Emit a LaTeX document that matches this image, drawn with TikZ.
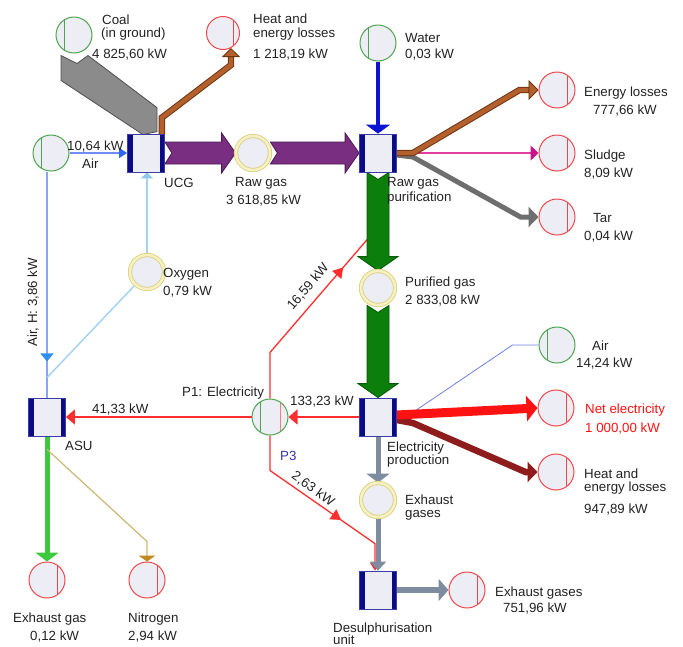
\documentclass[tikz,border=0pt]{standalone}
\usepackage{fontspec}
\setmainfont{Liberation Sans}
\usetikzlibrary{arrows.meta,calc,decorations.markings}
\pgfdeclarelayer{flows}
\pgfsetlayers{flows,main}

\definecolor{nodeFill}{HTML}{EDEDF6}
\definecolor{srcGreen}{HTML}{4DA54F}
\definecolor{snkRed}{HTML}{F2474A}
\definecolor{ringLine}{HTML}{D8CF7C}
\definecolor{ringBand}{HTML}{F6F0C2}
\definecolor{barNavy}{HTML}{0B0B86}
\definecolor{boxLine}{HTML}{3C3CA8}
\definecolor{coalGray}{HTML}{8B8B8B}
\definecolor{coalEdge}{HTML}{4F4F4F}
\definecolor{brownL}{HTML}{B4602C}
\definecolor{brownD}{HTML}{6E3512}
\definecolor{purpleL}{HTML}{7A2E82}
\definecolor{purpleD}{HTML}{4C1A52}
\definecolor{greenL}{HTML}{0B7E0B}
\definecolor{greenD}{HTML}{075A07}
\definecolor{airLine}{HTML}{6E8EF4}
\definecolor{airTip}{HTML}{2F66F2}
\definecolor{waterBlue}{HTML}{0A14D2}
\definecolor{sludgePink}{HTML}{E23C9E}
\definecolor{sludgeTip}{HTML}{C8148A}
\definecolor{tarGray}{HTML}{6E6E6E}
\definecolor{elecRed}{HTML}{FF2E2E}
\definecolor{netRed}{HTML}{FF1212}
\definecolor{lossRed}{HTML}{8E1C1C}
\definecolor{exGray}{HTML}{7E8CA0}
\definecolor{oxyBlue}{HTML}{A4D3F2}
\definecolor{oxyTip}{HTML}{8CC8F0}
\definecolor{hBlue}{HTML}{88A6F2}
\definecolor{hTip}{HTML}{2E8EF0}
\definecolor{asuGreen}{HTML}{3EC83E}
\definecolor{tanLine}{HTML}{CDB574}
\definecolor{tanTip}{HTML}{C08A1E}
\definecolor{airThin}{HTML}{6F7FE2}
\definecolor{p3Blue}{HTML}{3434AE}
\definecolor{textGray}{HTML}{222222}

\newcommand\lblfont{\fontsize{13.3}{15}\selectfont}

% broad flow arrow pointing right, with a notched tail
\newcommand\fatright[3]{%
  \filldraw[#1] let \p1=(#2), \p2=(#3) in
    (\x1,\y1+11pt) -- (\x2-14pt,\y1+11pt) -- (\x2-14pt,\y1+20pt) -- (\x2,\y1)
    -- (\x2-14pt,\y1-20pt) -- (\x2-14pt,\y1-11pt) -- (\x1,\y1-11pt) -- (\x1+7pt,\y1) -- cycle;}
% broad flow arrow pointing down, with a notched tail
\newcommand\fatdown[3]{%
  \filldraw[#1] let \p1=(#2), \p2=(#3) in
    (\x1-11pt,\y1) -- (\x1-11pt,\y2+14pt) -- (\x1-20pt,\y2+14pt) -- (\x1,\y2)
    -- (\x1+20pt,\y2+14pt) -- (\x1+11pt,\y2+14pt) -- (\x1+11pt,\y1) -- (\x1,\y1-7pt) -- cycle;}

\tikzset{
  src/.style={circle, minimum size=36pt, inner sep=0pt, fill=nodeFill, draw=srcGreen, line width=1pt,
    path picture={\draw[srcGreen, line width=1pt]
      ([xshift=-10pt]path picture bounding box.north) -- ([xshift=-10pt]path picture bounding box.south);}},
  snk/.style={circle, minimum size=36pt, inner sep=0pt, fill=nodeFill, draw=snkRed, line width=1pt,
    path picture={\draw[snkRed, line width=1pt]
      ([xshift=10pt]path picture bounding box.north) -- ([xshift=10pt]path picture bounding box.south);}},
  hub/.style={circle, minimum size=36pt, inner sep=0pt, fill=nodeFill, draw=srcGreen, line width=1pt,
    path picture={\draw[srcGreen, line width=1pt]
      ([xshift=-10pt]path picture bounding box.north) -- ([xshift=-10pt]path picture bounding box.south);
      \draw[snkRed!70, line width=0.8pt]
      ([xshift=10pt]path picture bounding box.north) -- ([xshift=10pt]path picture bounding box.south);}},
  mid/.style={circle, minimum size=34pt, inner sep=0pt, fill=nodeFill, draw=ringLine,
    double=ringBand, double distance=2.6pt, line width=0.8pt},
  proc/.style={rectangle, minimum width=37pt, minimum height=38pt, inner sep=0pt, fill=nodeFill,
    draw=boxLine, line width=0.8pt,
    path picture={\fill[barNavy] (path picture bounding box.north west) rectangle ([xshift=5pt]path picture bounding box.south west);
      \fill[barNavy] (path picture bounding box.north east) rectangle ([xshift=-5pt]path picture bounding box.south east);}},
  lbl/.style={font=\lblfont, text=textGray, inner sep=0pt, anchor=base west},
  purpleband/.style={fill=purpleL, draw=purpleD, line width=0.8pt},
  greenband/.style={fill=greenL, draw=greenD, line width=0.8pt},
  coalband/.style={fill=coalGray, draw=coalEdge, line width=0.8pt},
  brownflow/.style={draw=brownL, line width=4.4pt, preaction={draw=brownD, line width=6.4pt, -, shorten >=8pt}},
  airflow/.style={draw=airLine, line width=1.6pt},
  sludgeflow/.style={draw=sludgePink, line width=1.4pt},
  tarflow/.style={draw=tarGray, line width=5pt},
  elecline/.style={draw=elecRed, line width=1.3pt},
  netflow/.style={draw=netRed, line width=9pt},
  lossflow/.style={draw=lossRed, line width=6.5pt},
  exflow/.style={draw=exGray, line width=5pt},
  oxyline/.style={draw=oxyBlue, line width=1.5pt},
  hline/.style={draw=hBlue, line width=1.5pt},
  asuflow/.style={draw=asuGreen, line width=5pt},
  tanflow/.style={draw=tanLine, line width=1.2pt},
  thinair/.style={draw=airThin, line width=0.8pt},
}

\begin{document}
\begin{tikzpicture}[x=1pt, y=-1pt]
\useasboundingbox (0,0) rectangle (683,646);

% ---------- units, sources and sinks ----------
\node[src] (coal) at (74,35) {};
\node[snk, minimum size=33pt] (heatA) at (223,33) {};
\node[src] (water) at (378,43) {};
\node[src] (airL) at (51,153) {};
\node[proc] (ucg) at (146,153) {};
\node[mid] (rawgas) at (253,153) {};
\node[proc] (rgp) at (378,153) {};
\node[snk] (eloss) at (557,90) {};
\node[snk] (sludge) at (557,153) {};
\node[snk] (tar) at (557,217) {};
\node[mid] (purgas) at (378,288) {};
\node[mid] (oxy) at (147,272) {};
\node[src] (airR) at (557,345) {};
\node[proc] (elec) at (378,417) {};
\node[snk] (netel) at (556,408) {};
\node[snk] (heatB) at (556,472) {};
\node[mid] (exh) at (378,500) {};
\node[hub] (p1) at (270,417) {};
\node[proc] (asu) at (47,417) {};
\node[snk] (exgas) at (47,580) {};
\node[snk] (nitro) at (147,580) {};
\node[proc] (desul) at (378,590) {};
\node[snk] (exsink) at (467,590) {};

% ---------- flows ----------
\begin{pgfonlayer}{flows}
  % coal into the gasifier
  \filldraw[coalband] ($(coal.south)+(-13,2)$) -- ($(coal.south)+(3,10)$) -- ($(coal.south)+(14,2)$)
    -- ($(ucg.north)+(11,-26)$) -- ($(ucg.north)+(11,-2)$) -- ($(ucg.north)+(-3,1)$)
    -- ($(coal.south)+(-13,27)$) -- cycle;
  % gasifier losses
  \draw[brownflow, -{Triangle[width=18pt,length=9pt,line width=0.8pt,color=brownD,fill=brownL]}]
    ($(ucg.north east)+(-3,1)$) -- ++(0,-17) -- ($(heatA.-62)+(0,17)$) -- (heatA.-62);
  % air into the gasifier
  \draw[airflow, -{Triangle[width=10pt,length=8pt,color=airTip]}] (airL.east) -- (ucg.west);
  % raw gas
  \fatright{purpleband}{ucg.east}{rawgas.west}
  \fatright{purpleband}{rawgas.east}{rgp.west}
  % water
  \draw[draw=waterBlue, line width=3.5pt, -{Triangle[width=24pt,length=9pt]}] (water.south) -- (rgp.north);
  % purification outputs
  \draw[sludgeflow, -{Triangle[width=15pt,length=8pt,color=sludgeTip]}] (rgp.east) -- (sludge.west);
  \draw[tarflow, -{Triangle[width=20pt,length=10pt]}]
    ($(rgp.east)+(0,2)$) -- ++(16,2) -- ($(tar.west)+(-18,0)$) -- (tar.west);
  \draw[brownflow, -{Triangle[width=20pt,length=10pt,line width=0.8pt,color=brownD,fill=brownL]}]
    ($(rgp.east)+(0,0)$) -- ++(16,0) -- ($(eloss.west)+(-19,0)$) -- (eloss.west);
  % electricity to purification
  \draw[elecline, postaction={decorate, decoration={markings,
      mark=at position 0.8 with {\arrow{Triangle[width=12pt,length=10pt]}}}}]
    (p1.north) -- ++(0,-46) -- ($(rgp.south)+(-9,65)$);
  % purified gas
  \fatdown{greenband}{rgp.south}{purgas.north}
  \fatdown{greenband}{purgas.south}{elec.north}
  % electricity production outputs
  \draw[thinair] (airR.west) -- ++(-26,0) -- ($(elec.east)+(18,-6)$);
  \draw[lossflow, -{Triangle[width=20pt,length=10pt]}]
    ($(elec.east)+(0,3)$) -- ++(16,3) -- ($(heatB.west)+(-12,0)$) -- (heatB.west);
  \draw[netflow, -{Triangle[width=25pt,length=11pt]}] ($(elec.east)+(0,-2)$) -- (netel.west);
  \draw[elecline, -{Triangle[width=15pt,length=9pt]}] (elec.west) -- (p1.east);
  \draw[elecline, -{Triangle[width=15pt,length=9pt]}] (p1.west) -- (asu.east);
  % electricity to desulphurisation
  \draw[elecline, -{Triangle[width=10pt,length=8pt]},
    postaction={decorate, decoration={markings,
      mark=at position 0.64 with {\arrow{Triangle[width=12pt,length=10pt]}}}}]
    (p1.south) -- ++(0,35) -- ($(desul.north)+(-3,-27)$) -- ($(desul.north)+(-3,0)$);
  % exhaust chain
  \draw[exflow, -{Triangle[width=23pt,length=9pt]}] (elec.south) -- (exh.north);
  \draw[exflow, -{Triangle[width=16pt,length=9pt]}] (exh.south) -- (desul.north);
  \draw[exflow, line width=6pt, -{Triangle[width=22pt,length=10pt]}] (desul.east) -- (exsink.west);
  % air separation unit
  \draw[hline, postaction={decorate, decoration={markings,
      mark=at position 0.84 with {\arrow{Triangle[width=13pt,length=8pt,color=hTip]}}}}]
    (airL.south -| asu.north) -- (asu.north);
  \draw[oxyline, -{Triangle[width=12pt,length=6pt,color=oxyTip]}]
    ($(asu.north)+(0,-20)$) -- ($(oxy.south)+(0,-17)$) -- (oxy.south);
  \draw[oxyline, -{Triangle[width=12pt,length=6pt,color=oxyTip]}] (oxy.north) -- (oxy.north |- ucg.south);
  \draw[asuflow, -{Triangle[width=23pt,length=9pt]}] (asu.south) -- (exgas.north);
  \draw[tanflow, -{Triangle[width=17pt,length=6pt,color=tanTip]}]
    ($(asu.south)+(0,13)$) -- ($(nitro.north)+(0,-20)$) -- (nitro.north);
\end{pgfonlayer}

% ---------- labels ----------
\node[lbl] (tCoal) at (102,24) {Coal};
\node[lbl] (tCoalB) at (101,37.5) {(in ground)};
\node[lbl] (tCoalV) at (92,58.5) {4 825,60 kW};
\node[lbl] (tHeatA) at (253,23.5) {Heat and};
\node[lbl] (tHeatAB) at (253,37.5) {energy losses};
\node[lbl] (tHeatAV) at (253,58) {1 218,19 kW};
\node[lbl] (tWater) at (405,42) {Water};
\node[lbl] (tWaterV) at (405,58.5) {0,03 kW};
\node[lbl] (tAirLV) at (67,150) {10,64 kW};
\node[lbl] (tAirL) at (82,168) {Air};
\node[lbl] (tUcg) at (164,187) {UCG};
\node[lbl] (tRaw) at (235,186) {Raw gas};
\node[lbl] (tRawV) at (226,204) {3 618,85 kW};
\node[lbl] (tRgp) at (387,186) {Raw gas};
\node[lbl] (tRgpB) at (387,201) {purification};
\node[lbl] (tEloss) at (584,96) {Energy losses};
\node[lbl] (tElossV) at (593,114) {777,66 kW};
\node[lbl] (tSludge) at (584,159) {Sludge};
\node[lbl] (tSludgeV) at (584,177) {8,09 kW};
\node[lbl] (tTar) at (593,222) {Tar};
\node[lbl] (tTarV) at (584,240) {0,04 kW};
\node[lbl] (tPur) at (405,286) {Purified gas};
\node[lbl] (tPurV) at (405,304) {2 833,08 kW};
\node[lbl, anchor=center, rotate=49.5] (tRedA) at (308,287) {16,59 kW};
\node[lbl] (tOxy) at (163,277) {Oxygen};
\node[lbl] (tOxyV) at (163,295) {0,79 kW};
\node[lbl, rotate=90] (tAirH) at (37,347) {Air, H: 3,86 kW};
\node[lbl] (tAirR) at (592,350) {Air};
\node[lbl] (tAirRV) at (576,367) {14,24 kW};
\node[lbl] (tP1) at (182,396) {P1: Electricity};
\node[lbl] (tP1in) at (290,405) {133,23 kW};
\node[lbl] (tAsuIn) at (92,413) {41,33 kW};
\node[lbl] (tAsu) at (65,450) {ASU};
\node[lbl, text=p3Blue] (tP3) at (280,460) {P3};
\node[lbl, text=netRed] (tNet) at (585,413) {Net electricity};
\node[lbl, text=netRed] (tNetV) at (585,432) {1 000,00 kW};
\node[lbl] (tElec) at (387,451) {Electricity};
\node[lbl] (tElecB) at (387,464) {production};
\node[lbl] (tHeatB) at (584,478) {Heat and};
\node[lbl] (tHeatBB) at (584,491) {energy losses};
\node[lbl] (tHeatBV) at (584,513) {947,89 kW};
\node[lbl] (tExh) at (405,504) {Exhaust};
\node[lbl] (tExhB) at (405,517) {gases};
\node[lbl, anchor=center, rotate=-35.8] (tRedB) at (313,489) {2,63 kW};
\node[lbl] (tExs) at (495,596) {Exhaust gases};
\node[lbl] (tExsV) at (503,612) {751,96 kW};
\node[lbl] (tDes) at (333,632) {Desulphurisation};
\node[lbl] (tDesB) at (333,644.5) {unit};
\node[lbl] (tExg) at (13,622) {Exhaust gas};
\node[lbl] (tExgV) at (30,640) {0,12 kW};
\node[lbl] (tNit) at (128,622) {Nitrogen};
\node[lbl] (tNitV) at (128,640) {2,94 kW};
\end{tikzpicture}
\end{document}
